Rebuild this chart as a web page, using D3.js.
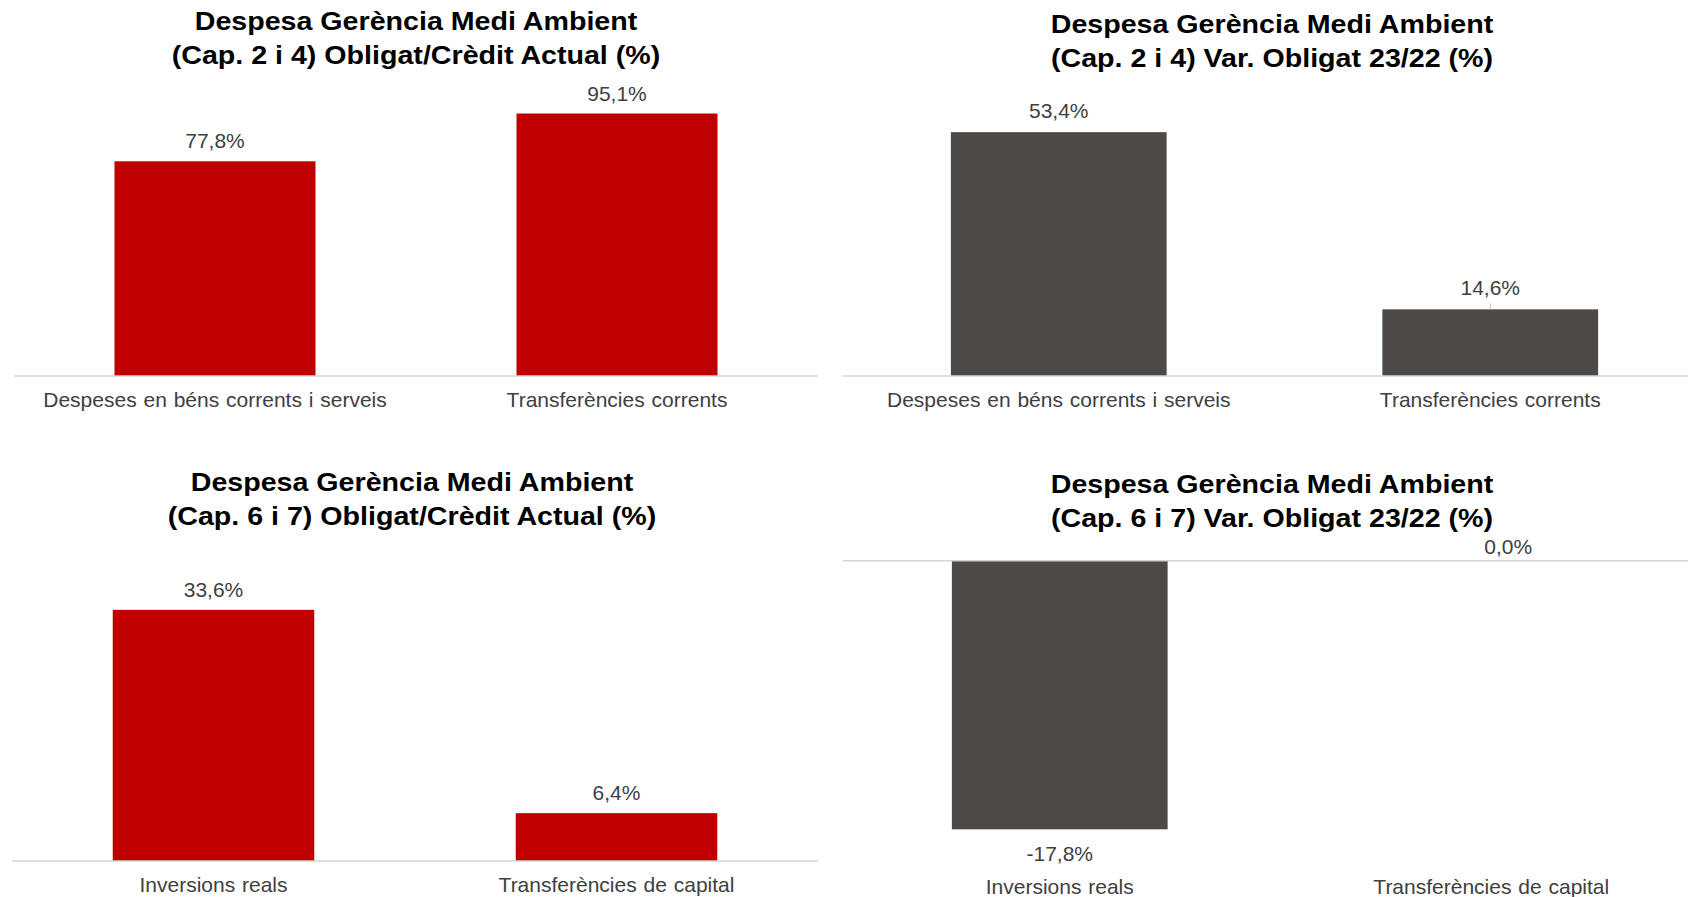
<!DOCTYPE html>
<html>
<head>
<meta charset="utf-8">
<script src="https://cdn.jsdelivr.net/npm/d3@7"></script>
<style>
  html, body { margin: 0; padding: 0; background: #fff; }
  svg { display: block; }
</style>
</head>
<body>
<svg id="chart" width="1688" height="897"></svg>
<script>
// --- dades ---
const catsCorrents = ["Despeses en béns corrents i serveis", "Transferències corrents"];
const catsCapital = ["Inversions reals", "Transferències de capital"];

const obligatCreditCorrents = [77.8, 95.1];
const varObligatCorrents = [53.4, 14.6];
const obligatCreditCapital = [33.6, 6.4];
const varObligatCapital = [-17.8, 0.0];

const titlesCorrents = [
  ["Despesa Gerència Medi Ambient", "(Cap. 2 i 4) Obligat/Crèdit Actual (%)"],
  ["Despesa Gerència Medi Ambient", "(Cap. 2 i 4) Var. Obligat 23/22 (%)"]
];
const titlesCapital = [
  ["Despesa Gerència Medi Ambient", "(Cap. 6 i 7) Obligat/Crèdit Actual (%)"],
  ["Despesa Gerència Medi Ambient", "(Cap. 6 i 7) Var. Obligat 23/22 (%)"]
];

const RED = "#c00000", GREY = "#4d4947";
const TXT = "#404040";

// format català: coma decimal, guió normal
const loc = d3.formatLocale({ decimal: ",", thousands: ".", grouping: [3], currency: ["", "€"], minus: "-" });
const fmt = v => loc.format(".1f")(v) + "%";

const svg = d3.select("#chart");

// --- un panell ---
function drawPanel(p) {
  const g = svg.append("g");

  const x = d3.scaleBand().domain(p.cats).range(p.xRange).paddingInner(0.5).paddingOuter(0.25);
  const y = d3.scaleLinear().domain(p.yDomain).range(p.yRange);

  // títol (dues línies, negreta)
  const t = g.append("text")
    .attr("transform", `translate(${p.titleX},${p.titleY}) scale(1.145,1)`)
    .attr("text-anchor", "middle")
    .style("font-family", "'Liberation Sans', Arial, sans-serif")
    .style("font-weight", "bold")
    .style("font-size", "25px")
    .attr("fill", "#000");
  p.title.forEach((line, i) => {
    t.append("tspan").attr("x", 0).attr("y", i * 34.5).text(line);
  });

  const data = p.cats.map((c, i) => ({ cat: c, v: p.values[i] }));

  // barres
  g.selectAll("rect.bar").data(data).join("rect")
    .attr("class", "bar")
    .attr("x", d => x(d.cat))
    .attr("width", x.bandwidth())
    .attr("y", d => Math.min(y(0), y(d.v)))
    .attr("height", d => Math.abs(y(d.v) - y(0)))
    .attr("fill", p.color);

  // línia de l'eix (zero)
  g.append("line")
    .attr("x1", p.axisX[0]).attr("x2", p.axisX[1])
    .attr("y1", y(0)).attr("y2", y(0))
    .attr("stroke", "#d4d4d4").attr("stroke-width", 1.6);

  // etiquetes de dades
  const off = p.labelOffset || 13;
  g.selectAll("text.val").data(data).join("text")
    .attr("class", "val")
    .attr("x", d => x(d.cat) + x.bandwidth() / 2 + (d.v === 0 ? 17 : 0))
    .attr("y", d => d.v < 0 ? y(d.v) + 32 : (d.v === 0 ? y(0) - 7 : y(d.v) - off))
    .attr("text-anchor", "middle")
    .style("font-family", "'Liberation Sans', Arial, sans-serif")
    .style("font-size", "21px")
    .attr("fill", TXT)
    .text(d => fmt(d.v));

  // petita línia guia per a etiquetes properes a la barra
  if (p.leader) {
    data.filter(d => d.cat === p.leader).forEach(d => {
      g.append("line")
        .attr("x1", x(d.cat) + x.bandwidth() / 2).attr("x2", x(d.cat) + x.bandwidth() / 2)
        .attr("y1", y(d.v) - 6).attr("y2", y(d.v))
        .attr("stroke", "#bfbfbf").attr("stroke-width", 1);
    });
  }

  // categories (a baix del tot de l'àrea del gràfic)
  g.selectAll("text.cat").data(p.cats).join("text")
    .attr("class", "cat")
    .attr("x", d => x(d) + x.bandwidth() / 2)
    .attr("y", d3.max(p.yRange) + 31)
    .attr("text-anchor", "middle")
    .style("font-family", "'Liberation Sans', Arial, sans-serif")
    .style("font-size", "21px")
    .style("word-spacing", "1px")
    .attr("fill", TXT)
    .text(d => d);
}

drawPanel({
  cats: catsCorrents, values: obligatCreditCorrents, color: RED, title: titlesCorrents[0],
  titleX: 416, titleY: 30, xRange: [14, 818], axisX: [14, 818],
  yDomain: [0, 100], yRange: [376, 100]
});
drawPanel({
  cats: catsCorrents, values: varObligatCorrents, color: GREY, title: titlesCorrents[1],
  titleX: 1272, titleY: 33, xRange: [843, 1706], axisX: [843, 1688],
  yDomain: [0, 60], yRange: [376, 102], leader: catsCorrents[1], labelOffset: 14
});
drawPanel({
  cats: catsCapital, values: obligatCreditCapital, color: RED, title: titlesCapital[0],
  titleX: 412, titleY: 491, xRange: [12, 818], axisX: [12, 818],
  yDomain: [0, 40], yRange: [861, 562]
});
drawPanel({
  cats: catsCapital, values: varObligatCapital, color: GREY, title: titlesCapital[1],
  titleX: 1272, titleY: 493, xRange: [844, 1707], axisX: [843, 1688],
  yDomain: [-20, 0], yRange: [862.5, 560.7]
});
</script>
</body>
</html>
